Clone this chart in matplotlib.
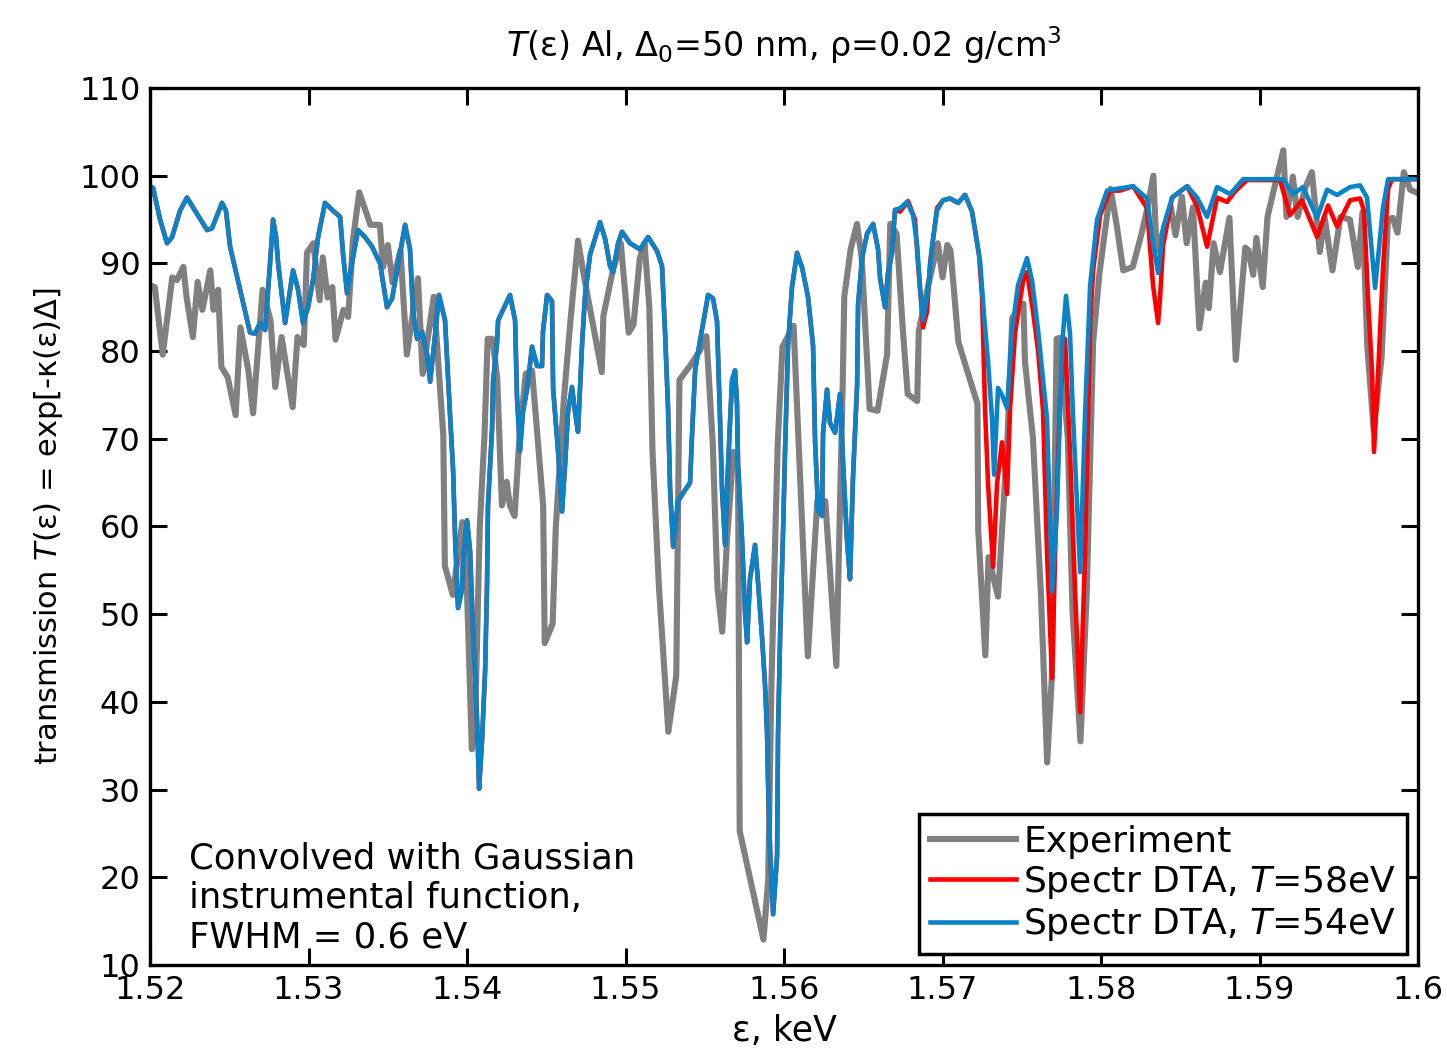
import numpy as np
import matplotlib.pyplot as plt

plt.rcParams['font.family'] = ['DejaVu Sans']
plt.rcParams['mathtext.fontset'] = 'dejavusans'

# Experiment: photon energy (eV) and transmission (%)
exp_e = [1520.0, 1520.3, 1520.8, 1521.4, 1521.7, 1522.1, 1522.3, 1522.7, 1523.0, 1523.3,
         1523.8, 1524.0, 1524.3, 1524.5, 1524.9, 1525.4, 1525.7, 1526.2, 1526.5, 1527.1,
         1527.6, 1527.9, 1528.3, 1529.0, 1529.3, 1529.7, 1529.9, 1530.3, 1530.7, 1530.9,
         1531.2, 1531.5, 1531.7, 1532.2, 1532.5, 1532.8, 1533.2, 1533.9, 1534.5, 1534.7,
         1535.0, 1535.3, 1535.8, 1536.2, 1536.9, 1537.2, 1537.9, 1538.5, 1538.6, 1539.1,
         1539.7, 1539.9, 1540.1, 1540.3, 1540.5, 1540.8, 1541.1, 1541.3, 1541.6, 1541.9,
         1542.2, 1542.5, 1542.7, 1543.0, 1543.3, 1543.7, 1544.1, 1544.8, 1544.9, 1545.4,
         1545.6, 1546.1, 1546.5, 1547.0, 1547.4, 1548.5, 1548.6, 1549.2, 1549.7, 1550.2,
         1550.5, 1550.9, 1551.2, 1551.5, 1551.7, 1552.1, 1552.7, 1553.2, 1553.4, 1554.1,
         1554.7, 1555.1, 1555.5, 1555.8, 1556.1, 1556.4, 1556.8, 1557.1, 1557.2, 1558.0,
         1558.7, 1559.0, 1559.2, 1559.6, 1559.9, 1560.6, 1561.5, 1562.1, 1562.6, 1563.3,
         1563.7, 1563.8, 1564.2, 1564.6, 1564.9, 1565.4, 1565.9, 1566.5, 1566.7, 1567.1,
         1567.5, 1567.8, 1568.4, 1568.5, 1569.1, 1569.7, 1570.0, 1570.3, 1570.5, 1571.0,
         1572.2, 1572.25, 1572.7, 1572.9, 1573.5, 1574.1, 1574.4, 1575.1, 1575.2, 1575.7,
         1576.2, 1576.6, 1576.9, 1577.2, 1577.4, 1577.9, 1578.2, 1578.7, 1579.1, 1579.5,
         1579.9, 1580.6, 1581.0, 1581.4, 1582.0, 1582.5, 1582.9, 1583.3, 1583.5, 1583.9,
         1584.4, 1584.7, 1585.1, 1585.4, 1585.8, 1586.2, 1586.6, 1586.8, 1587.1, 1587.5,
         1588.1, 1588.5, 1589.1, 1589.3, 1589.6, 1589.8, 1590.2, 1590.5, 1591.1, 1591.5,
         1591.7, 1592.1, 1592.4, 1592.9, 1593.3, 1593.8, 1594.1, 1594.6, 1595.1, 1595.7,
         1596.2, 1596.5, 1596.8, 1597.2, 1597.7, 1598.1, 1598.4, 1598.7, 1599.1, 1599.5,
         1600.0]
exp_t = [87.5, 87.3, 79.6, 88.4, 88.1, 89.6, 86.2, 81.6, 87.9, 84.7,
         89.2, 84.7, 87.0, 78.2, 77.0, 72.7, 82.7, 77.8, 72.9, 87.0,
         83.5, 75.9, 81.6, 73.6, 81.6, 80.7, 91.2, 92.3, 85.8, 90.7,
         86.1, 87.3, 81.3, 84.7, 83.9, 92.7, 98.1, 94.4, 94.4, 89.6,
         92.1, 87.8, 91.5, 79.6, 88.3, 77.4, 86.2, 70.4, 55.5, 52.2,
         60.5, 58.0, 46.7, 34.6, 37.0, 59.8, 70.4, 81.4, 81.4, 77.0,
         62.4, 65.1, 62.4, 61.2, 70.0, 77.4, 77.8, 62.4, 46.7, 48.9,
         60.0, 74.3, 83.0, 92.6, 88.3, 77.6, 84.0, 89.2, 92.3, 82.1,
         83.0, 90.6, 92.3, 85.0, 68.6, 53.3, 36.6, 43.0, 76.7, 78.4,
         80.1, 81.7, 69.5, 53.0, 48.0, 58.5, 68.5, 66.2, 25.3, 18.7,
         12.9, 19.7, 41.9, 69.5, 80.5, 82.9, 45.2, 62.9, 62.9, 44.1,
         76.2, 86.2, 91.6, 94.5, 90.6, 73.4, 73.2, 79.6, 94.5, 93.4,
         82.3, 75.1, 74.3, 82.3, 87.5, 92.3, 88.4, 92.1, 91.5, 81.0,
         74.0, 59.6, 45.3, 56.5, 52.0, 70.1, 83.8, 85.4, 78.8, 70.1,
         52.6, 33.1, 43.0, 81.4, 81.5, 70.1, 50.4, 35.5, 52.6, 81.0,
         88.9, 98.5, 94.2, 89.2, 89.6, 93.0, 96.1, 100.0, 91.5, 93.5,
         96.4, 93.2, 97.6, 92.3, 96.4, 82.6, 87.8, 84.9, 92.3, 89.0,
         95.2, 79.0, 91.8, 91.5, 88.7, 92.9, 87.3, 95.3, 99.9, 102.9,
         95.3, 99.9, 95.3, 98.7, 100.4, 91.3, 95.3, 89.2, 95.3, 95.0,
         89.6, 95.9, 80.5, 71.0, 79.3, 95.0, 95.2, 93.5, 100.4, 98.4,
         98.0]

# Spectr DTA, both temperatures coincide below ~1567 eV
sim_e_shared = [1520.00, 1520.19, 1520.63, 1521.07, 1521.39, 1521.89, 1522.33, 1522.84, 1523.60, 1523.91,
                1524.54, 1524.79, 1525.05, 1525.68, 1526.31, 1526.62, 1526.94, 1527.26, 1527.57, 1527.76,
                1527.95, 1528.08, 1528.52, 1529.02, 1529.34, 1529.65, 1529.97, 1530.28, 1530.60, 1531.04,
                1531.55, 1531.99, 1532.18, 1532.43, 1532.74, 1533.12, 1533.56, 1534.01, 1534.51, 1534.95,
                1535.27, 1535.58, 1536.09, 1536.40, 1536.59, 1536.85, 1537.16, 1537.48, 1537.67, 1537.98,
                1538.23, 1538.61, 1538.80, 1538.93, 1539.12, 1539.24, 1539.43, 1539.68, 1539.75, 1540.00,
                1540.19, 1540.38, 1540.63, 1540.76, 1540.95, 1541.14, 1541.26, 1541.32, 1541.58, 1541.64,
                1541.89, 1541.96, 1542.27, 1542.71, 1543.03, 1543.15, 1543.34, 1543.53, 1543.79, 1544.10,
                1544.42, 1544.73, 1544.79, 1545.05, 1545.36, 1545.43, 1545.74, 1545.99, 1546.18, 1546.37,
                1546.62, 1546.81, 1547.00, 1547.26, 1547.44, 1547.76, 1548.20, 1548.39, 1548.71, 1549.02,
                1549.21, 1549.53, 1549.78, 1550.28, 1550.91, 1551.42, 1551.99, 1552.30, 1552.49, 1552.68,
                1552.81, 1553.00, 1553.31, 1553.63, 1554.07, 1554.20, 1554.39, 1554.70, 1555.02, 1555.21,
                1555.52, 1555.77, 1555.96, 1556.09, 1556.28, 1556.40, 1556.59, 1556.72, 1556.91, 1557.03,
                1557.10, 1557.35, 1557.54, 1557.67, 1557.85, 1558.17, 1558.36, 1558.61, 1558.80, 1558.93,
                1558.99, 1559.12, 1559.31, 1559.56, 1559.62, 1559.75, 1559.94, 1560.06, 1560.25, 1560.50,
                1560.82, 1561.14, 1561.51, 1561.83, 1561.96, 1562.15, 1562.40, 1562.46, 1562.71, 1562.90,
                1563.22, 1563.53, 1563.72, 1563.97, 1564.16, 1564.35, 1564.61, 1564.67, 1564.92, 1565.24,
                1565.62, 1565.93, 1566.06, 1566.37, 1566.56, 1566.81, 1567.00]
sim_t_shared = [98.8, 98.6, 95.0, 92.3, 93.0, 96.0, 97.5, 96.0, 93.8, 94.0,
                96.9, 96.0, 91.9, 87.0, 82.1, 82.0, 83.2, 82.4, 90.0, 95.0,
                93.0, 90.0, 83.2, 89.2, 87.0, 83.2, 85.0, 88.1, 93.0, 96.9,
                96.0, 95.3, 91.0, 86.6, 90.0, 93.8, 93.0, 91.9, 90.0, 85.0,
                86.0, 89.2, 94.4, 91.6, 84.5, 81.4, 82.2, 79.6, 76.5, 81.8,
                86.4, 83.5, 76.9, 72.6, 66.4, 59.0, 50.7, 52.8, 56.4, 60.7,
                57.2, 48.0, 37.9, 30.1, 35.8, 43.6, 53.3, 62.4, 71.2, 76.5,
                80.9, 83.5, 84.7, 86.4, 83.5, 74.8, 68.6, 73.1, 75.7, 80.5,
                78.3, 78.3, 82.2, 86.4, 85.7, 75.7, 68.6, 61.7, 66.9, 73.1,
                75.9, 73.1, 70.8, 80.9, 86.2, 91.0, 93.6, 94.7, 92.8, 89.7,
                89.0, 92.3, 93.6, 92.3, 91.6, 93.0, 91.4, 89.7, 82.2, 73.5,
                64.3, 57.7, 62.9, 63.8, 65.0, 70.7, 77.8, 81.2, 84.5, 86.4,
                86.0, 83.4, 72.3, 64.1, 57.9, 64.1, 71.8, 76.7, 77.8, 74.0,
                66.8, 58.5, 50.1, 46.8, 54.0, 57.9, 53.6, 47.4, 41.9, 36.3,
                30.8, 23.1, 15.8, 22.5, 36.3, 47.4, 59.6, 68.5, 80.6, 87.3,
                91.2, 89.5, 86.2, 80.6, 69.5, 61.8, 61.2, 70.7, 75.6, 71.8,
                70.7, 75.1, 67.4, 58.5, 54.0, 65.6, 76.2, 85.3, 90.6, 93.4,
                94.5, 91.6, 88.3, 85.0, 88.9, 91.2, 96.1]

# T = 58 eV beyond the shared part
t58_e_tail = [1567.32, 1567.82, 1568.26, 1568.45, 1568.77, 1569.02, 1569.21, 1569.65, 1570.03, 1570.47,
              1570.98, 1571.42, 1571.86, 1572.30, 1572.49, 1572.68, 1572.87, 1573.19, 1573.44, 1573.75,
              1574.07, 1574.26, 1574.57, 1575.08, 1575.33, 1575.71, 1576.03, 1576.34, 1576.59, 1576.91,
              1577.10, 1577.41, 1577.73, 1578.04, 1578.36, 1578.68, 1578.99, 1579.31, 1579.50, 1579.94,
              1580.57, 1581.20, 1582.02, 1582.90, 1583.28, 1583.60, 1583.72, 1583.91, 1584.48, 1585.43,
              1586.06, 1586.69, 1587.32, 1587.95, 1588.45, 1589.21, 1591.29, 1591.92, 1592.68, 1593.63,
              1594.32, 1594.89, 1595.71, 1596.34, 1596.59, 1596.85, 1597.10, 1597.22, 1597.48, 1597.79,
              1598.11, 1598.36, 1600.00]
t58_t_tail = [95.9, 97.1, 95.0, 90.0, 82.7, 84.5, 90.0, 96.3, 97.2, 97.4,
              96.9, 97.8, 95.9, 91.0, 86.3, 73.5, 64.9, 55.4, 64.9, 69.6,
              63.7, 73.5, 82.0, 88.0, 89.0, 84.5, 80.0, 73.2, 57.0, 42.7,
              57.0, 74.4, 81.4, 68.5, 52.6, 38.8, 57.0, 83.2, 89.2, 95.5,
              98.3, 98.3, 98.8, 96.3, 87.5, 83.2, 86.0, 92.0, 97.5, 98.8,
              96.5, 91.9, 97.5, 97.0, 98.2, 99.5, 99.5, 95.5, 97.2, 93.0,
              96.6, 94.2, 97.2, 97.4, 96.0, 85.8, 77.5, 68.5, 77.5, 89.5,
              98.5, 99.6, 99.6]

# T = 54 eV beyond the shared part
t54_e_tail = [1567.32, 1567.76, 1568.14, 1568.39, 1568.58, 1568.77, 1569.09, 1569.34, 1569.65, 1570.03,
              1570.47, 1570.98, 1571.42, 1571.86, 1572.37, 1572.62, 1572.87, 1573.12, 1573.25, 1573.50,
              1573.75, 1574.07, 1574.38, 1574.76, 1575.33, 1575.65, 1576.03, 1576.59, 1576.91, 1577.22,
              1577.54, 1577.79, 1578.04, 1578.23, 1578.68, 1578.99, 1579.31, 1579.75, 1580.38, 1581.01,
              1582.02, 1582.90, 1583.22, 1583.60, 1583.91, 1584.48, 1585.43, 1586.06, 1586.69, 1587.32,
              1588.14, 1588.96, 1591.48, 1592.11, 1592.74, 1593.63, 1594.26, 1594.89, 1595.71, 1596.34,
              1596.78, 1597.29, 1597.79, 1598.11, 1600.00]
t54_t_tail = [96.3, 97.0, 95.5, 92.2, 87.3, 83.5, 87.0, 92.0, 96.0, 97.2,
              97.4, 96.9, 97.8, 95.9, 90.2, 84.0, 78.8, 72.3, 65.9, 75.8,
              75.0, 73.5, 82.3, 87.5, 90.6, 88.0, 82.3, 72.3, 52.6, 62.0,
              80.6, 86.3, 82.0, 72.7, 54.8, 72.7, 87.5, 95.0, 98.3, 98.5,
              98.8, 97.4, 93.0, 88.9, 94.0, 97.5, 98.8, 97.5, 95.3, 98.7,
              97.9, 99.6, 99.6, 97.9, 98.7, 95.2, 98.4, 97.8, 98.7, 98.9,
              97.5, 87.2, 96.4, 99.6, 99.6]

t58_e = sim_e_shared + t58_e_tail
t58_t = sim_t_shared + t58_t_tail
t54_e = sim_e_shared + t54_e_tail
t54_t = sim_t_shared + t54_t_tail

x_ticks = [1.52, 1.53, 1.54, 1.55, 1.56, 1.57, 1.58, 1.59, 1.6]
x_ticklabels = ['1.52', '1.53', '1.54', '1.55', '1.56', '1.57', '1.58', '1.59', '1.6']
y_ticks = [10, 20, 30, 40, 50, 60, 70, 80, 90, 100, 110]

fig = plt.figure(figsize=(14.47, 10.51), dpi=100)
ax = fig.add_axes([0.1037, 0.0818, 0.8763, 0.8345])

ax.plot(np.array(exp_e) / 1000, exp_t, color='#808080', lw=4.4,
        solid_joinstyle='round', label='Experiment')
ax.plot(np.array(t58_e) / 1000, t58_t, color='#ff0000', lw=3.3,
        label='Spectr DTA, $\\mathit{T}$=58eV')
ax.plot(np.array(t54_e) / 1000, t54_t, color='#0a84c8', lw=3.3,
        label='Spectr DTA, $\\mathit{T}$=54eV')

ax.set_xlim(1.52, 1.6)
ax.set_ylim(10, 110)
ax.set_xticks(x_ticks)
ax.set_xticklabels(x_ticklabels)
ax.set_yticks(y_ticks)
ax.tick_params(direction='in', length=12, width=2.2, labelsize=23,
               top=True, right=True, pad=7)
for s in ax.spines.values():
    s.set_linewidth(2.4)

ax.set_title('$\\mathit{T}$(ε) Al, Δ$_0$=50 nm, ρ=0.02 g/cm$^3$', fontsize=24, pad=22)
ax.set_xlabel('ε, keV', fontsize=25, labelpad=6)
ax.set_ylabel('transmission $\\mathit{T}$(ε) = exp[-κ(ε)Δ]', fontsize=22, labelpad=10)

ax.text(0.031, 0.076, 'Convolved with Gaussian\ninstrumental function,\nFWHM = 0.6 eV',
        transform=ax.transAxes, fontsize=25.5, va='center', ha='left', linespacing=1.2)

leg = ax.legend(loc='lower right', fontsize=26, frameon=True, fancybox=False,
                borderaxespad=0.3, handlelength=2.4, handletextpad=0.2,
                labelspacing=0.15, borderpad=0.3)
leg.get_frame().set_edgecolor('black')
leg.get_frame().set_linewidth(2.5)
leg.get_frame().set_alpha(1)

fig.savefig('out.png', dpi=100)
